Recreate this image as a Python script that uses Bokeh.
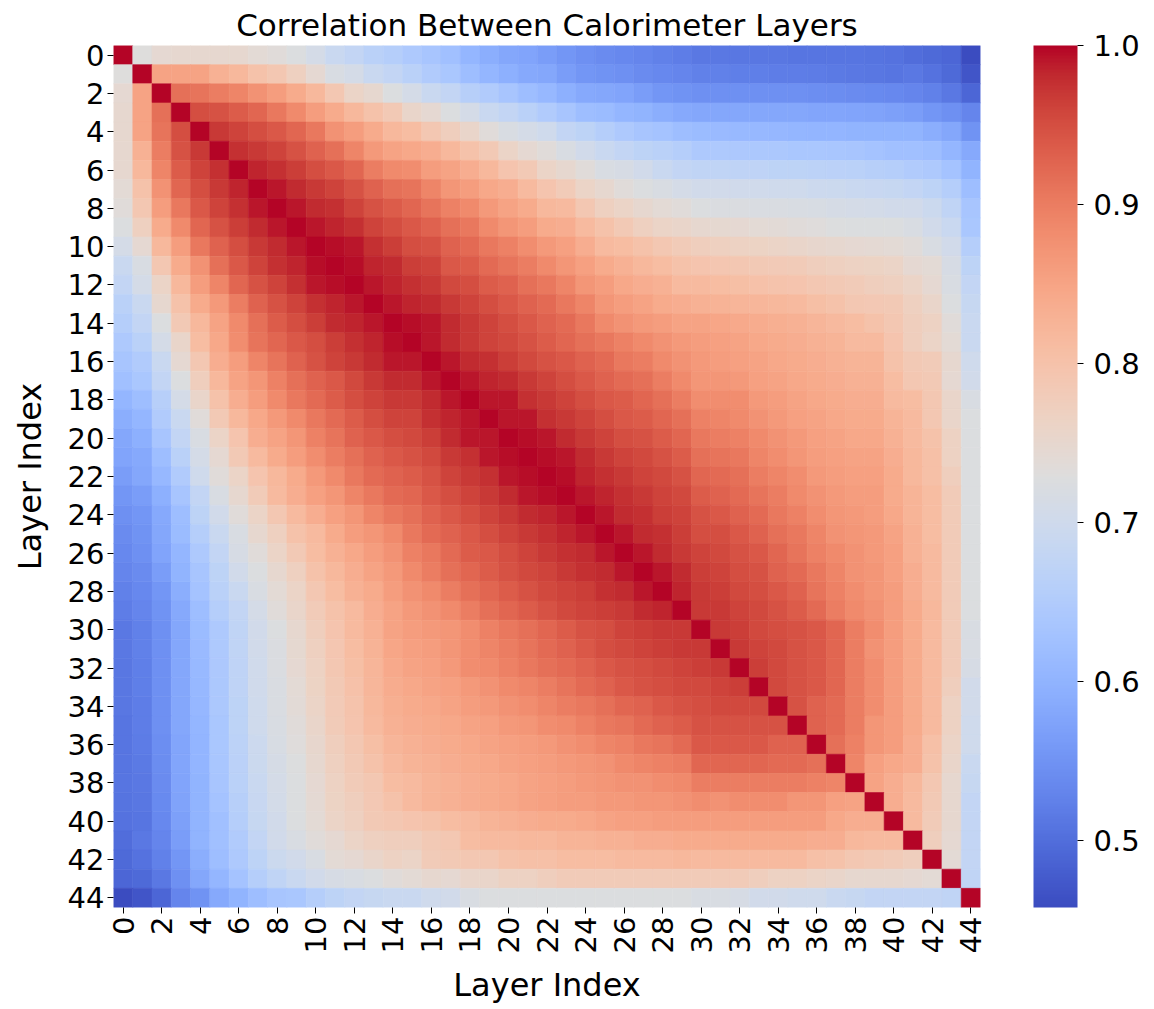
import math
from bokeh.plotting import figure
from bokeh.models import (ColumnDataSource, LinearColorMapper, ColorBar, FixedTicker,
                          PrintfTickFormatter, CustomJSTickFormatter, Range1d)
from bokeh.embed import file_html
from bokeh.resources import INLINE

# ---------------- data ----------------
layers = list(range(45))
tick_layers = list(range(0, 45, 2))
cbar_ticks = [0.5, 0.6, 0.7, 0.8, 0.9, 1.0]

# lower triangle of the correlation matrix: row i holds columns 0..i-1
corr_lower = [
    [],
    [0.73],
    [0.745, 0.85],
    [0.75, 0.85, 0.915],
    [0.75, 0.85, 0.91, 0.95],
    [0.75, 0.83, 0.90, 0.945, 0.97],
    [0.75, 0.82, 0.89, 0.935, 0.96, 0.975],
    [0.74, 0.80, 0.875, 0.925, 0.95, 0.97, 0.985],
    [0.735, 0.79, 0.86, 0.905, 0.94, 0.96, 0.975, 0.99],
    [0.725, 0.77, 0.84, 0.885, 0.925, 0.945, 0.965, 0.98, 0.99],
    [0.71, 0.745, 0.82, 0.86, 0.905, 0.93, 0.95, 0.97, 0.98, 0.99],
    [0.69, 0.72, 0.79, 0.84, 0.875, 0.915, 0.94, 0.96, 0.975, 0.985, 0.995],
    [0.68, 0.71, 0.76, 0.82, 0.86, 0.89, 0.925, 0.945, 0.96, 0.975, 0.99, 0.995],
    [0.665, 0.69, 0.75, 0.80, 0.84, 0.865, 0.90, 0.93, 0.945, 0.96, 0.975, 0.985, 0.99],
    [0.655, 0.68, 0.725, 0.785, 0.82, 0.85, 0.885, 0.915, 0.935, 0.95, 0.965, 0.98, 0.985, 0.99],
    [0.645, 0.665, 0.71, 0.755, 0.81, 0.845, 0.88, 0.91, 0.925, 0.94, 0.95, 0.965, 0.975, 0.985, 0.995],
    [0.635, 0.65, 0.69, 0.745, 0.79, 0.835, 0.86, 0.89, 0.91, 0.93, 0.945, 0.96, 0.97, 0.98, 0.99, 0.99],
    [0.625, 0.64, 0.68, 0.725, 0.775, 0.82, 0.85, 0.87, 0.895, 0.915, 0.93, 0.94, 0.955, 0.97, 0.98, 0.98, 0.99],
    [0.605, 0.62, 0.66, 0.71, 0.755, 0.80, 0.835, 0.86, 0.885, 0.905, 0.92, 0.935, 0.95, 0.96, 0.97, 0.97, 0.98, 0.99],
    [0.59, 0.605, 0.65, 0.69, 0.735, 0.785, 0.82, 0.845, 0.865, 0.885, 0.905, 0.92, 0.935, 0.95, 0.96, 0.96, 0.975, 0.985, 0.99],
    [0.58, 0.595, 0.635, 0.68, 0.72, 0.76, 0.795, 0.835, 0.85, 0.87, 0.895, 0.91, 0.93, 0.94, 0.95, 0.955, 0.965, 0.98, 0.99, 0.99],
    [0.575, 0.585, 0.62, 0.665, 0.71, 0.745, 0.785, 0.815, 0.84, 0.86, 0.88, 0.90, 0.915, 0.93, 0.94, 0.945, 0.955, 0.97, 0.975, 0.99, 0.995],
    [0.565, 0.58, 0.61, 0.65, 0.70, 0.735, 0.76, 0.795, 0.82, 0.84, 0.865, 0.885, 0.905, 0.92, 0.93, 0.935, 0.945, 0.96, 0.97, 0.975, 0.99, 0.995],
    [0.555, 0.565, 0.595, 0.635, 0.68, 0.72, 0.75, 0.78, 0.815, 0.835, 0.855, 0.87, 0.89, 0.905, 0.92, 0.925, 0.94, 0.95, 0.96, 0.97, 0.98, 0.99, 0.995],
    [0.545, 0.555, 0.585, 0.62, 0.67, 0.705, 0.735, 0.76, 0.79, 0.815, 0.835, 0.855, 0.87, 0.89, 0.905, 0.915, 0.93, 0.94, 0.95, 0.96, 0.97, 0.98, 0.985, 0.99],
    [0.54, 0.55, 0.58, 0.615, 0.655, 0.69, 0.72, 0.75, 0.77, 0.80, 0.815, 0.84, 0.86, 0.87, 0.885, 0.905, 0.92, 0.93, 0.94, 0.95, 0.96, 0.97, 0.975, 0.985, 0.99],
    [0.535, 0.545, 0.575, 0.605, 0.645, 0.68, 0.715, 0.735, 0.76, 0.785, 0.81, 0.83, 0.845, 0.86, 0.875, 0.895, 0.905, 0.92, 0.935, 0.94, 0.95, 0.96, 0.97, 0.975, 0.98, 0.99],
    [0.53, 0.54, 0.565, 0.60, 0.635, 0.67, 0.705, 0.725, 0.75, 0.77, 0.80, 0.82, 0.835, 0.85, 0.865, 0.885, 0.90, 0.915, 0.925, 0.935, 0.945, 0.955, 0.96, 0.97, 0.975, 0.98, 0.99],
    [0.525, 0.535, 0.555, 0.59, 0.63, 0.665, 0.69, 0.72, 0.74, 0.76, 0.79, 0.81, 0.83, 0.84, 0.86, 0.875, 0.885, 0.90, 0.915, 0.925, 0.935, 0.945, 0.955, 0.96, 0.965, 0.975, 0.98, 0.99],
    [0.52, 0.53, 0.55, 0.585, 0.62, 0.655, 0.68, 0.71, 0.735, 0.755, 0.78, 0.80, 0.815, 0.835, 0.85, 0.865, 0.875, 0.885, 0.90, 0.915, 0.925, 0.935, 0.945, 0.955, 0.96, 0.965, 0.97, 0.98, 0.985],
    [0.515, 0.525, 0.545, 0.58, 0.615, 0.645, 0.675, 0.705, 0.725, 0.75, 0.775, 0.795, 0.815, 0.83, 0.85,
     0.86, 0.865, 0.87, 0.88, 0.895, 0.905, 0.915, 0.925, 0.935, 0.945, 0.95, 0.96, 0.965, 0.97, 0.97],
    [0.515, 0.525, 0.545, 0.58, 0.613, 0.645, 0.674, 0.704, 0.724, 0.747, 0.771, 0.792, 0.81, 0.827, 0.846,
     0.855, 0.86, 0.87, 0.88, 0.89, 0.90, 0.91, 0.92, 0.93, 0.94, 0.95, 0.955, 0.96, 0.965, 0.97,
     0.97],
    [0.513, 0.523, 0.545, 0.58, 0.611, 0.643, 0.673, 0.703, 0.723, 0.744, 0.767, 0.789, 0.806, 0.824, 0.842,
     0.85, 0.855, 0.865, 0.88, 0.885, 0.895, 0.905, 0.915, 0.92, 0.93, 0.94, 0.945, 0.95, 0.955, 0.96,
     0.965, 0.97],
    [0.512, 0.522, 0.545, 0.58, 0.609, 0.642, 0.672, 0.702, 0.722, 0.741, 0.763, 0.786, 0.802, 0.821, 0.838,
     0.845, 0.85, 0.855, 0.865, 0.875, 0.885, 0.89, 0.90, 0.91, 0.92, 0.93, 0.94, 0.945, 0.95, 0.955,
     0.955, 0.96, 0.965],
    [0.511, 0.521, 0.545, 0.58, 0.607, 0.641, 0.671, 0.701, 0.721, 0.738, 0.759, 0.783, 0.798, 0.818, 0.834,
     0.84, 0.845, 0.85, 0.86, 0.865, 0.875, 0.88, 0.89, 0.90, 0.905, 0.915, 0.925, 0.93, 0.94, 0.945,
     0.95, 0.955, 0.955, 0.955],
    [0.51, 0.52, 0.545, 0.58, 0.605, 0.64, 0.67, 0.70, 0.72, 0.735, 0.755, 0.78, 0.795, 0.815, 0.83,
     0.835, 0.84, 0.845, 0.85, 0.855, 0.865, 0.87, 0.88, 0.885, 0.895, 0.905, 0.91, 0.92, 0.93, 0.935,
     0.945, 0.945, 0.945, 0.945, 0.945],
    [0.51, 0.518, 0.543, 0.578, 0.603, 0.638, 0.668, 0.697, 0.717, 0.732, 0.752, 0.775, 0.79, 0.807, 0.823,
     0.83, 0.835, 0.84, 0.845, 0.85, 0.855, 0.86, 0.865, 0.875, 0.88, 0.89, 0.895, 0.905, 0.91, 0.92,
     0.94, 0.94, 0.94, 0.94, 0.93, 0.93],
    [0.51, 0.517, 0.542, 0.577, 0.602, 0.637, 0.667, 0.694, 0.714, 0.729, 0.749, 0.77, 0.785, 0.799, 0.817,
     0.825, 0.83, 0.835, 0.84, 0.845, 0.85, 0.855, 0.86, 0.865, 0.87, 0.875, 0.885, 0.89, 0.895, 0.90,
     0.925, 0.925, 0.925, 0.925, 0.92, 0.92, 0.915],
    [0.51, 0.515, 0.54, 0.575, 0.60, 0.635, 0.665, 0.69, 0.71, 0.725, 0.745, 0.765, 0.78, 0.79, 0.81,
     0.815, 0.825, 0.83, 0.835, 0.84, 0.845, 0.85, 0.855, 0.86, 0.865, 0.87, 0.875, 0.875, 0.88, 0.885,
     0.90, 0.90, 0.90, 0.90, 0.90, 0.90, 0.895, 0.89],
    [0.508, 0.513, 0.538, 0.573, 0.60, 0.63, 0.66, 0.688, 0.708, 0.725, 0.743, 0.763, 0.775, 0.788, 0.80,
     0.815, 0.825, 0.83, 0.835, 0.84, 0.845, 0.85, 0.855, 0.86, 0.86, 0.865, 0.865, 0.87, 0.87, 0.875,
     0.88, 0.875, 0.88, 0.88, 0.88, 0.87, 0.87, 0.855, 0.85],
    [0.505, 0.51, 0.535, 0.57, 0.60, 0.625, 0.655, 0.685, 0.705, 0.725, 0.74, 0.76, 0.77, 0.785, 0.79,
     0.795, 0.80, 0.81, 0.815, 0.825, 0.83, 0.835, 0.84, 0.84, 0.845, 0.85, 0.855, 0.855, 0.86, 0.86,
     0.86, 0.86, 0.86, 0.86, 0.86, 0.86, 0.86, 0.845, 0.835, 0.835],
    [0.50, 0.515, 0.53, 0.565, 0.60, 0.625, 0.65, 0.68, 0.705, 0.72, 0.735, 0.745, 0.76, 0.77, 0.775,
     0.775, 0.785, 0.79, 0.81, 0.815, 0.815, 0.82, 0.82, 0.825, 0.825, 0.83, 0.83, 0.835, 0.835, 0.84,
     0.84, 0.84, 0.84, 0.84, 0.84, 0.84, 0.835, 0.835, 0.82, 0.815, 0.815],
    [0.495, 0.505, 0.525, 0.555, 0.59, 0.62, 0.645, 0.67, 0.695, 0.705, 0.72, 0.74, 0.745, 0.755, 0.765,
     0.76, 0.78, 0.785, 0.79, 0.79, 0.80, 0.805, 0.805, 0.81, 0.81, 0.81, 0.815, 0.815, 0.815, 0.82,
     0.815, 0.815, 0.815, 0.815, 0.815, 0.815, 0.805, 0.80, 0.79, 0.785, 0.78, 0.775],
    [0.49, 0.495, 0.515, 0.545, 0.58, 0.605, 0.63, 0.655, 0.675, 0.69, 0.705, 0.715, 0.72, 0.725, 0.735,
     0.74, 0.75, 0.745, 0.755, 0.755, 0.765, 0.765, 0.775, 0.78, 0.78, 0.78, 0.78, 0.78, 0.78, 0.78,
     0.78, 0.78, 0.78, 0.775, 0.765, 0.765, 0.76, 0.755, 0.75, 0.75, 0.75, 0.745, 0.74],
    [0.458, 0.47, 0.49, 0.53, 0.55, 0.585, 0.60, 0.62, 0.635, 0.64, 0.655, 0.67, 0.68, 0.685, 0.69,
     0.69, 0.70, 0.705, 0.72, 0.725, 0.725, 0.725, 0.725, 0.725, 0.725, 0.725, 0.725, 0.725, 0.725, 0.725,
     0.72, 0.72, 0.715, 0.705, 0.705, 0.70, 0.70, 0.69, 0.685, 0.68, 0.68, 0.68, 0.68, 0.675],
]

# ---------------- colour map (coolwarm, Moreland anchors) ----------------
coolwarm_anchors = [
    (59, 76, 192), (68, 90, 204), (77, 104, 215), (87, 117, 225), (98, 130, 234),
    (108, 142, 241), (119, 154, 247), (130, 165, 251), (141, 176, 254), (152, 185, 255),
    (163, 194, 255), (174, 201, 253), (184, 208, 249), (194, 213, 244), (204, 217, 238),
    (213, 219, 230), (221, 221, 221), (229, 216, 209), (236, 211, 197), (241, 204, 185),
    (245, 196, 173), (247, 187, 160), (247, 177, 148), (247, 166, 135), (244, 154, 123),
    (241, 141, 111), (236, 127, 99), (229, 112, 88), (222, 96, 77), (213, 80, 66),
    (203, 62, 56), (192, 40, 47), (180, 4, 38),
]


def build_palette(anchors, n=256):
    out = []
    m = len(anchors) - 1
    for k in range(n):
        t = k / (n - 1) * m
        i = min(int(t), m - 1)
        f = t - i
        c = [round(anchors[i][q] + (anchors[i + 1][q] - anchors[i][q]) * f) for q in range(3)]
        out.append("#%02x%02x%02x" % tuple(c))
    return out


palette = build_palette(coolwarm_anchors)

# ---------------- full matrix ----------------
n = len(layers)
xs, ys, vals = [], [], []
for i in layers:
    for j in layers:
        if i == j:
            v = 1.0
        elif j < i:
            v = corr_lower[i][j]
        else:
            v = corr_lower[j][i]
        xs.append(j + 0.5)
        ys.append(i + 0.5)
        vals.append(v)

vmin = min(vals)
vmax = max(vals)
mapper = LinearColorMapper(palette=palette, low=vmin, high=vmax)
source = ColumnDataSource(dict(x=xs, y=ys, val=vals))

FONT = "DejaVu Sans"

p = figure(frame_width=867, frame_height=862, output_backend="svg", toolbar_location=None,
           x_range=Range1d(0, n), y_range=Range1d(n, 0),
           min_border_left=113, min_border_right=174, min_border_top=45, min_border_bottom=100,
           title="Correlation Between Calorimeter Layers")
p.rect(x="x", y="y", width=1, height=1, source=source,
       fill_color={"field": "val", "transform": mapper},
       line_color={"field": "val", "transform": mapper}, line_width=0.6)

p.title.align = "center"
p.title.text_font = FONT
p.title.text_font_size = "31px"
p.title.text_font_style = "normal"
p.title.text_color = "black"
p.title.text_line_height = 1.0
p.title.standoff = 6

p.grid.visible = False
p.outline_line_color = None
p.background_fill_color = "white"
p.border_fill_color = "white"

ticks = [t + 0.5 for t in tick_layers]
fmt = CustomJSTickFormatter(code="return (tick - 0.5).toFixed(0);")
for ax in (p.xaxis[0], p.yaxis[0]):
    ax.ticker = FixedTicker(ticks=ticks)
    ax.formatter = fmt
    ax.axis_line_color = None
    ax.major_tick_in = 0
    ax.major_tick_out = 6
    ax.minor_tick_line_color = None
    ax.major_tick_line_color = "black"
    ax.major_label_text_font = FONT
    ax.major_label_text_font_size = "29px"
    ax.major_label_text_color = "black"
    ax.axis_label = "Layer Index"
    ax.axis_label_text_font = FONT
    ax.axis_label_text_font_size = "32px"
    ax.axis_label_text_font_style = "normal"
    ax.axis_label_text_color = "black"
    ax.major_label_standoff = 3

p.yaxis[0].axis_label_standoff = 16
p.xaxis[0].axis_label_standoff = 10
p.xaxis.major_label_orientation = math.pi / 2

cb = ColorBar(color_mapper=mapper, ticker=FixedTicker(ticks=cbar_ticks),
              formatter=PrintfTickFormatter(format="%.1f"),
              width=44, height=862, padding=0, margin=0, location=(53, 0),
              major_label_text_font=FONT, major_label_text_font_size="29px",
              major_label_text_color="black",
              major_tick_in=0, major_tick_out=6, major_tick_line_color="black",
              minor_tick_line_color=None, bar_line_color=None, border_line_color=None,
              background_fill_alpha=0, label_standoff=10)
p.add_layout(cb, "right")

open("out.html", "w").write(file_html(p, INLINE))
